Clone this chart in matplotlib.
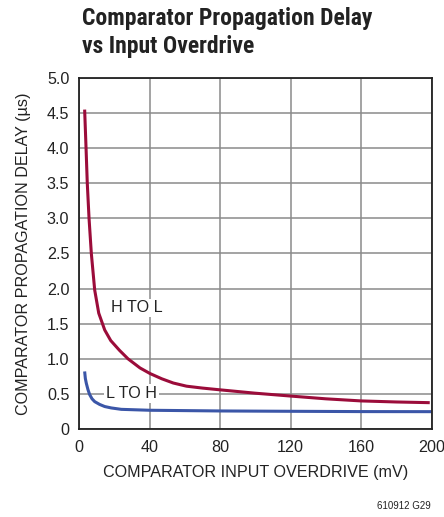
import matplotlib
matplotlib.use("Agg")
import matplotlib.pyplot as plt
from matplotlib import font_manager as fm

names = {f.name for f in fm.fontManager.ttflist}
cond = next((n for n in ['Liberation Sans Narrow', 'Roboto Condensed', 'Liberation Sans'] if n in names), 'DejaVu Sans')
plt.rcParams['font.family'] = ['Liberation Sans', 'DejaVu Sans']

# Data (overdrive in mV, delay in us)
hl_x = [3.2, 4.0, 4.7, 5.7, 7.0, 8.9, 11.2, 14.6, 18, 23, 27.8, 34.6, 40.3, 47, 53.5,
        61, 70, 80.4, 100, 119.7, 140, 160, 180, 199]
hl_y = [4.55, 4.0, 3.5, 3.0, 2.5, 1.98, 1.65, 1.41, 1.26, 1.12, 1.0, 0.87, 0.79, 0.715, 0.655,
        0.61, 0.583, 0.557, 0.51, 0.47, 0.43, 0.40, 0.385, 0.375]
lh_x = [3.2, 3.6, 4.16, 5.1, 6.05, 7.4, 8.9, 11.7, 14.6, 18.3, 24, 40, 80, 113, 160, 200]
lh_y = [0.82, 0.72, 0.65, 0.56, 0.49, 0.43, 0.39, 0.35, 0.32, 0.30, 0.28, 0.267, 0.257, 0.253, 0.248, 0.247]

x_ticks = [0, 40, 80, 120, 160, 200]
y_ticks = [0, 0.5, 1.0, 1.5, 2.0, 2.5, 3.0, 3.5, 4.0, 4.5, 5.0]

fig = plt.figure(figsize=(4.44, 5.17), dpi=100)
W, H = 444, 517
ax = fig.add_axes([79 / W, 1 - 429 / H, (431.5 - 79) / W, (429 - 78) / H])

ax.plot(hl_x, hl_y, color='#9b0c3a', lw=2.2, solid_capstyle='butt', solid_joinstyle='round')
ax.plot(lh_x, lh_y, color='#3b56a8', lw=2.2, solid_capstyle='butt', solid_joinstyle='round')

ax.set_xlim(0, 200)
ax.set_ylim(0, 5.0)
ax.set_xticks(x_ticks)
ax.set_xticklabels([str(v) for v in x_ticks])
ax.set_yticks(y_ticks)
ax.set_yticklabels([f"{v:.1f}" if v else "0" for v in y_ticks])
ax.tick_params(length=0, labelsize=11.6, colors='#222222')
ax.tick_params(axis='x', pad=8)
ax.tick_params(axis='y', pad=7)
ax.grid(True, color='#8a8a8a', lw=1.1)
ax.set_axisbelow(True)
for s in ax.spines.values():
    s.set_color('#222222')
    s.set_linewidth(1.3)

ax.set_xlabel('COMPARATOR INPUT OVERDRIVE (mV)', fontsize=11.6, color='#222222', labelpad=7)
ax.set_ylabel('COMPARATOR PROPAGATION DELAY (µs)', fontsize=11.6, color='#222222', labelpad=11)

ax.text(18.2, 1.73, 'H TO L', fontsize=11.6, color='#222222', va='center', ha='left',
        bbox=dict(facecolor='white', edgecolor='none', pad=1))
ax.text(15.1, 0.51, 'L TO H', fontsize=11.6, color='#222222', va='center', ha='left',
        bbox=dict(facecolor='white', edgecolor='none', pad=1.5))

fig.text(82 / W, 1 - 25 / H, 'Comparator Propagation Delay', family=[cond, 'DejaVu Sans'],
         fontsize=17, fontweight='bold', color='#222222', ha='left', va='baseline')
fig.text(82 / W, 1 - 53 / H, 'vs Input Overdrive', family=[cond, 'DejaVu Sans'],
         fontsize=17, fontweight='bold', color='#222222', ha='left', va='baseline')
fig.text(431 / W, 1 - 506 / H, '610912 G29', fontsize=7, color='#222222', ha='right', va='center')

fig.savefig('out.png', dpi=100)
